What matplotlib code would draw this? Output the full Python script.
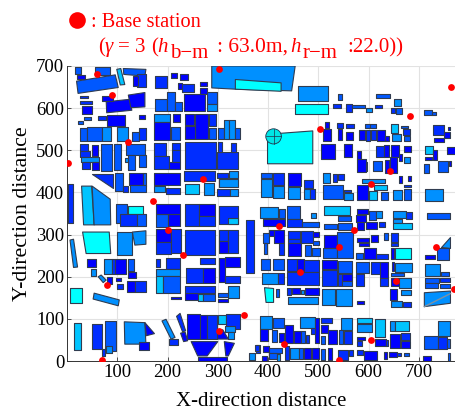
import numpy as np
import matplotlib
matplotlib.use('Agg')
import matplotlib.pyplot as plt
from matplotlib.collections import PolyCollection
from matplotlib.colors import LinearSegmentedColormap
from matplotlib.patches import Ellipse

plt.rcParams['font.family'] = ['Liberation Serif', 'DejaVu Serif']
plt.rcParams['mathtext.fontset'] = 'stix'

# base stations
bs_x = [60, 90, 302, 121, 1, 270, 171, 764, 683, 503, 643, 604, 200, 230, 80, 70, 352, 302,
        422, 572, 542, 463, 654, 734, 771, 432, 604, 542]
bs_y = [680, 630, 692, 520, 471, 431, 380, 651, 581, 551, 451, 421, 311, 252, 181, 2, 110, 71,
        320, 310, 270, 211, 190, 270, 172, 40, 51, 2]

x_ticks = [100, 200, 300, 400, 500, 600, 700]
y_ticks = [0, 100, 200, 300, 400, 500, 600, 700]

# buildings: x0, x1, y0, y1, height class (0 = blue ... 5 = cyan)
rect_nw = [
    (16, 27, 682, 697, 2), (56, 86, 679, 698, 2), (19, 36, 668, 678, 0), (140, 157, 651, 680, 1),
    (132, 142, 652, 676, 0), (175, 198, 648, 676, 1), (207, 218, 672, 684, 0), (225, 240, 666, 682, 0),
    (220, 228, 645, 660, 0), (228, 252, 639, 658, 1), (264, 278, 652, 663, 0), (264, 278, 634, 647, 0),
    (26, 42, 623, 629, 1), (69, 92, 617, 629, 0), (26, 50, 609, 617, 1), (29, 49, 585, 605, 0),
    (175, 198, 593, 622, 2), (198, 215, 593, 639, 2), (215, 228, 593, 615, 2), (233, 275, 593, 633, 0),
    (278, 298, 609, 639, 2), (278, 298, 593, 609, 3), (34, 47, 571, 579, 2), (21, 32, 563, 570, 2),
    (62, 78, 573, 581, 1), (79, 115, 558, 583, 0), (143, 155, 575, 584, 0), (26, 39, 521, 554, 2),
    (40, 69, 521, 555, 2), (69, 88, 521, 555, 3), (100, 121, 522, 555, 3), (129, 143, 522, 544, 2),
    (143, 157, 524, 552, 1), (173, 205, 566, 585, 3), (173, 205, 524, 566, 0), (210, 225, 566, 585, 0),
    (207, 225, 524, 555, 2), (234, 253, 560, 585, 0), (255, 281, 526, 585, 0), (234, 255, 526, 558, 0),
    (283, 296, 558, 585, 1), (283, 296, 526, 554, 2), (301, 313, 526, 552, 2), (313, 323, 526, 571, 3),
    (323, 334, 526, 571, 3), (334, 345, 526, 552, 2), (26, 42, 498, 514, 1), (26, 46, 483, 498, 1),
    (27, 64, 473, 484, 3), (29, 46, 455, 473, 1), (49, 62, 487, 513, 0), (49, 64, 453, 473, 0),
    (67, 90, 451, 514, 2), (94, 107, 453, 514, 2), (117, 155, 489, 516, 2), (122, 135, 453, 489, 2),
    (144, 157, 460, 489, 2), (115, 121, 473, 481, 3), (174, 197, 487, 518, 1), (174, 202, 455, 487, 1),
    (208, 224, 501, 518, 1), (208, 224, 473, 501, 1), (202, 225, 455, 473, 0), (234, 296, 455, 519, 1),
    (299, 341, 455, 495, 1), (301, 309, 495, 520, 1), (326, 337, 495, 518, 1), (96, 112, 404, 445, 2),
    (112, 122, 402, 415, 1), (123, 151, 418, 445, 0), (151, 157, 416, 445, 2), (125, 157, 402, 418, 2),
    (174, 225, 418, 447, 0), (174, 195, 400, 415, 3), (197, 225, 397, 411, 1), (232, 295, 426, 451, 1),
    (234, 262, 396, 421, 4), (272, 293, 394, 422, 3), (299, 321, 435, 447, 1), (323, 341, 434, 450, 3),
    (303, 341, 412, 431, 3), (298, 325, 392, 409, 1), (325, 341, 392, 409, 3), (1, 11, 328, 421, 1),
    (98, 120, 327, 372, 2), (121, 152, 348, 368, 5), (105, 140, 320, 348, 1), (140, 157, 320, 348, 2),
    (177, 200, 317, 348, 2), (200, 225, 320, 348, 0), (177, 225, 348, 372, 0), (235, 262, 320, 372, 1),
    (262, 295, 345, 372, 0), (262, 295, 320, 345, 1), (303, 341, 324, 368, 1), (321, 341, 324, 339, 4),
]
rect_sw = [
    (357, 373, 210, 334, 1), (100, 130, 252, 306, 3), (177, 207, 283, 313, 0), (177, 207, 253, 283, 1),
    (207, 227, 257, 313, 1), (234, 295, 252, 311, 1), (303, 320, 285, 311, 1), (320, 341, 257, 311, 1),
    (303, 320, 257, 285, 0), (40, 58, 222, 241, 0), (47, 57, 202, 219, 3), (79, 89, 182, 200, 0),
    (74, 89, 206, 241, 3), (89, 96, 206, 241, 1), (96, 117, 206, 241, 0), (122, 133, 214, 241, 2),
    (122, 137, 198, 212, 0), (98, 107, 190, 198, 0), (99, 112, 170, 182, 1), (119, 135, 164, 190, 0),
    (135, 157, 164, 190, 1), (177, 185, 224, 241, 1), (196, 225, 218, 244, 1), (177, 225, 202, 218, 3),
    (177, 192, 162, 202, 4), (192, 225, 161, 202, 2), (236, 270, 186, 220, 1), (270, 295, 186, 220, 0),
    (264, 295, 230, 245, 1), (303, 315, 188, 245, 0), (315, 345, 222, 247, 0), (315, 345, 186, 202, 1),
    (235, 260, 145, 162, 0), (235, 295, 162, 178, 1), (261, 271, 143, 160, 4), (271, 295, 143, 160, 2),
    (301, 321, 153, 162, 2), (321, 342, 150, 178, 3), (301, 320, 141, 147, 0), (206, 226, 147, 153, 0),
    (6, 29, 137, 174, 5), (13, 28, 27, 91, 4), (49, 69, 28, 87, 1), (76, 97, 24, 94, 2),
    (69, 76, 12, 28, 1), (77, 89, 18, 36, 3), (144, 164, 26, 44, 0), (203, 220, 38, 52, 1),
    (238, 264, 52, 111, 0), (264, 279, 52, 108, 0), (279, 298, 52, 110, 1), (260, 318, 0, 10, 0),
    (301, 316, 87, 110, 4), (316, 344, 75, 111, 1), (315, 335, 69, 83, 3), (321, 333, 52, 69, 3),
    (363, 374, 3, 20, 3), (376, 384, 20, 38, 1),
]
rect_ne = [
    (459, 519, 617, 652, 3), (454, 519, 587, 609, 5), (540, 548, 619, 634, 2), (615, 642, 623, 634, 2),
    (651, 665, 605, 622, 3), (529, 546, 600, 609, 1), (555, 568, 592, 609, 1), (568, 592, 600, 607, 2),
    (595, 607, 592, 600, 3), (612, 627, 600, 607, 1), (645, 652, 588, 601, 1), (655, 667, 587, 601, 2),
    (711, 726, 583, 596, 2), (726, 734, 584, 592, 2), (514, 522, 552, 566, 0), (509, 526, 522, 550, 0),
    (537, 550, 552, 564, 1), (555, 572, 552, 563, 1), (539, 548, 524, 550, 0), (555, 570, 524, 544, 0),
    (580, 592, 524, 547, 0), (592, 603, 552, 563, 2), (603, 614, 552, 563, 2), (594, 603, 521, 547, 1),
    (605, 615, 524, 547, 1), (617, 633, 522, 547, 0), (632, 640, 521, 534, 0), (645, 659, 542, 562, 4),
    (647, 665, 521, 538, 3), (665, 678, 552, 558, 2), (668, 683, 536, 550, 1), (671, 683, 521, 534, 2),
    (506, 533, 480, 516, 0), (552, 567, 483, 514, 0), (577, 584, 479, 498, 0), (614, 630, 483, 510, 1),
    (630, 640, 483, 512, 0), (645, 660, 483, 512, 0), (670, 685, 495, 510, 0), (671, 683, 471, 484, 3),
    (661, 667, 475, 490, 0), (577, 594, 449, 479, 0), (594, 597, 451, 473, 2), (608, 627, 451, 475, 2),
    (633, 641, 447, 476, 0), (643, 657, 447, 483, 0), (713, 728, 490, 510, 4), (713, 726, 477, 484, 0),
    (728, 736, 477, 500, 0), (756, 773, 492, 508, 0), (711, 721, 445, 467, 2), (738, 758, 449, 475, 2),
    (760, 764, 462, 475, 0), (728, 750, 536, 560, 1), (751, 763, 530, 544, 0), (730, 750, 520, 528, 0),
    (758, 762, 548, 555, 0), (386, 408, 434, 447, 2), (386, 408, 388, 431, 3), (409, 431, 418, 447, 1),
    (409, 431, 386, 415, 3), (439, 465, 416, 445, 0), (439, 464, 385, 412, 3), (471, 489, 410, 429, 1),
    (471, 484, 384, 408, 3), (484, 494, 384, 408, 1), (509, 524, 422, 445, 3), (529, 537, 425, 443, 1),
    (540, 552, 430, 443, 1), (509, 550, 384, 417, 2), (552, 565, 402, 406, 1), (552, 569, 382, 398, 3),
    (577, 598, 382, 418, 0), (586, 632, 422, 431, 3), (611, 637, 405, 417, 4), (600, 617, 382, 404, 4),
    (625, 639, 382, 400, 2), (648, 667, 381, 405, 3), (661, 667, 423, 438, 0), (678, 685, 427, 438, 0),
    (671, 685, 412, 417, 1), (671, 685, 381, 408, 2), (713, 748, 380, 408, 3),
]
rect_se = [
    (385, 420, 340, 365, 3), (389, 433, 320, 338, 0), (421, 433, 340, 360, 2), (438, 464, 338, 368, 2),
    (438, 467, 317, 336, 1), (467, 501, 317, 330, 2), (485, 495, 339, 350, 3), (511, 564, 346, 367, 4),
    (540, 565, 332, 344, 2), (511, 537, 314, 324, 2), (540, 568, 312, 328, 2), (577, 599, 348, 360, 0),
    (576, 594, 330, 346, 0), (577, 590, 311, 330, 0), (594, 617, 313, 330, 0), (600, 614, 335, 356, 2),
    (615, 627, 340, 356, 3), (620, 632, 317, 330, 1), (648, 675, 340, 356, 3), (675, 687, 338, 354, 1),
    (648, 667, 327, 336, 3), (648, 687, 313, 327, 4), (716, 763, 336, 352, 2), (402, 411, 297, 311, 0),
    (389, 402, 281, 303, 2), (411, 431, 279, 311, 0), (391, 398, 253, 281, 2), (422, 431, 251, 281, 1),
    (439, 463, 289, 309, 1), (439, 463, 281, 289, 1), (439, 465, 249, 279, 0), (465, 489, 279, 309, 1),
    (489, 501, 295, 306, 0), (489, 502, 275, 285, 2), (474, 486, 249, 275, 2), (487, 503, 248, 269, 2),
    (511, 538, 268, 298, 0), (509, 537, 245, 268, 2), (538, 570, 245, 306, 2), (576, 588, 243, 257, 2),
    (590, 615, 241, 269, 0), (615, 639, 243, 253, 1), (577, 600, 283, 293, 0), (580, 601, 273, 281, 0),
    (605, 618, 283, 298, 0), (630, 638, 287, 303, 2), (645, 658, 283, 303, 1), (645, 658, 273, 281, 1),
    (645, 651, 243, 267, 0), (653, 685, 241, 268, 5), (713, 733, 241, 252, 0), (736, 760, 239, 267, 2),
    (386, 404, 216, 241, 2), (409, 431, 216, 241, 2), (388, 420, 182, 208, 3), (420, 431, 182, 210, 1),
    (438, 457, 214, 241, 1), (457, 471, 214, 241, 0), (471, 502, 212, 240, 1), (438, 501, 180, 211, 1),
    (507, 537, 177, 216, 1), (507, 537, 218, 240, 0), (539, 568, 210, 238, 2), (548, 568, 190, 206, 0),
    (539, 548, 177, 206, 1), (548, 568, 177, 189, 2), (576, 600, 208, 235, 2), (604, 622, 206, 234, 1),
    (623, 638, 198, 234, 0), (622, 638, 177, 196, 1), (576, 590, 177, 206, 1), (647, 651, 214, 235, 0),
    (653, 687, 212, 232, 3), (645, 670, 202, 210, 2), (645, 660, 177, 198, 0), (660, 685, 174, 196, 3),
    (713, 743, 202, 231, 3), (745, 760, 202, 211, 2), (713, 740, 186, 198, 2), (743, 763, 188, 198, 1),
    (713, 738, 174, 185, 2), (742, 763, 174, 182, 2), (416, 422, 151, 172, 2), (438, 446, 156, 174, 1),
    (447, 464, 158, 174, 0), (465, 472, 158, 168, 3), (474, 501, 157, 173, 0), (439, 499, 135, 153, 3),
    (507, 534, 132, 172, 3), (536, 567, 131, 172, 3), (577, 590, 135, 143, 0), (643, 657, 145, 170, 0),
    (665, 685, 157, 168, 3), (645, 667, 129, 143, 3), (669, 685, 129, 141, 1), (384, 408, 77, 107, 3),
    (409, 431, 78, 101, 2), (384, 400, 48, 76, 0), (408, 418, 46, 74, 2), (422, 431, 44, 66, 0),
    (433, 450, 42, 86, 0), (451, 465, 42, 72, 0), (463, 493, 78, 105, 3), (494, 501, 42, 103, 0),
    (465, 474, 42, 72, 2), (475, 482, 42, 61, 1), (486, 494, 64, 78, 1), (506, 527, 90, 103, 1),
    (506, 519, 66, 85, 0), (505, 514, 40, 60, 2), (519, 537, 40, 74, 0), (545, 568, 74, 103, 3),
    (542, 550, 40, 74, 2), (552, 568, 40, 72, 1), (577, 607, 90, 101, 4), (577, 607, 69, 87, 3),
    (612, 632, 58, 99, 4), (577, 592, 50, 58, 0), (577, 587, 35, 48, 1), (612, 634, 35, 53, 0),
    (634, 639, 35, 50, 1), (642, 653, 72, 95, 3), (653, 681, 72, 95, 4), (642, 663, 32, 64, 0),
    (665, 683, 50, 66, 1), (665, 683, 31, 48, 0), (710, 738, 28, 60, 2), (738, 763, 60, 94, 3),
    (738, 756, 28, 56, 1), (756, 763, 32, 52, 2), (375, 383, 24, 38, 1), (389, 402, 22, 35, 0),
    (402, 428, 19, 32, 2), (388, 398, 0, 12, 0), (402, 418, 4, 19, 2), (418, 424, 0, 16, 3),
    (433, 442, 3, 35, 1), (444, 461, 4, 32, 3), (461, 469, 4, 30, 2), (471, 486, 4, 31, 0),
    (487, 501, 4, 31, 0), (505, 514, 3, 28, 2), (519, 527, 3, 30, 0), (540, 560, 3, 27, 1),
    (562, 570, 12, 27, 1), (577, 588, 15, 27, 1), (590, 617, 3, 24, 0), (630, 637, 4, 22, 0),
    (640, 657, 10, 22, 0), (657, 665, 12, 20, 1), (670, 680, 11, 20, 2), (708, 724, 0, 12, 0),
    (758, 763, 0, 18, 2),
]

# irregular footprints: (corner points, height class)
poly_blocks = [
    ([(288, 700), (454, 700), (447, 641), (335, 645), (288, 648)], 3),
    ([(335, 668), (426, 660), (426, 640), (335, 645)], 5),
    ([(19, 664), (96, 679), (102, 649), (22, 635)], 2),
    ([(99, 692), (107, 694), (115, 656), (106, 655)], 4),
    ([(112, 694), (157, 692), (155, 676), (113, 680)], 2),
    ([(78, 615), (125, 621), (129, 595), (79, 589)], 0),
    ([(122, 631), (155, 637), (155, 603), (127, 601)], 0),
    ([(50, 443), (91, 443), (91, 410)], 1),
    ([(29, 415), (49, 415), (54, 323), (33, 323)], 4),
    ([(50, 415), (86, 384), (87, 323), (54, 323)], 3),
    ([(399, 538), (489, 546), (489, 468), (399, 468)], 5),
    ([(6, 287), (13, 289), (21, 223), (13, 222)], 3),
    ([(31, 306), (84, 306), (87, 255), (38, 255)], 5),
    ([(130, 306), (157, 309), (157, 277), (135, 275)], 3),
    ([(54, 161), (104, 145), (102, 131), (52, 147)], 3),
    ([(114, 93), (155, 91), (157, 40), (115, 40)], 3),
    ([(155, 91), (174, 65), (158, 60)], 0),
    ([(189, 95), (197, 99), (215, 56), (207, 52)], 3),
    ([(218, 106), (225, 113), (236, 72), (230, 69)], 1),
    ([(226, 66), (235, 69), (240, 48), (232, 46)], 0),
    ([(247, 46), (300, 46), (279, 12), (260, 12)], 0),
    ([(298, 74), (310, 74), (321, 52), (298, 52)], 0),
    ([(313, 46), (333, 42), (321, 12), (316, 12)], 0),
    ([(62, 200), (68, 204), (78, 192), (72, 186)], 3),
    ([(393, 174), (411, 172), (411, 139), (396, 139)], 5),
    ([(745, 269), (763, 293), (763, 267), (749, 269)], 3),
    ([(711, 162), (763, 166), (763, 137), (711, 129)], 3),
]

# legend line, piece by piece: text, left pixel, top-down baseline pixel, size, italic
legend_pieces = [
    (': Base station', 91, 27, 14.7, False),
    ('(', 98, 52, 15, False),
    ('\u03b3', 105, 52, 15, True),
    ('= 3', 118, 52, 15, False),
    ('(', 151, 52, 15, False),
    ('h', 157, 52, 15, True),
    ('b\u2212m', 170, 58, 15, False),
    (': 63.0m,', 217, 52, 15.5, False),
    ('h', 290, 52, 15, True),
    ('r\u2212m', 303, 58, 15, False),
    (':22.0))', 347, 52, 15, False),
]


def rect_corners(x0, x1, y0, y1):
    return [(x0, y0), (x1, y0), (x1, y1), (x0, y1)]


def main():
    fig = plt.figure(figsize=(4.55, 4.12), dpi=100)
    ax = fig.add_axes([67 / 455, (412 - 361) / 412, 388 / 455, 295 / 412])

    # green channel climbs slowly at the low end, most footprints read as deep blue
    cmap = LinearSegmentedColormap.from_list(
        'height', [(0, '#0000ff'), (0.2, '#002dff'), (0.4, '#0058ff'),
                   (0.6, '#0090ff'), (0.8, '#00c4ff'), (1, '#00ffff')])
    all_rects = rect_nw + rect_sw + rect_ne + rect_se
    verts = [poly for poly, _ in poly_blocks] + [rect_corners(*r[:4]) for r in all_rects]
    levels = [lv for _, lv in poly_blocks] + [r[4] for r in all_rects]
    blocks = PolyCollection(verts, array=np.array(levels, dtype=float), cmap=cmap, clim=(0, 5),
                            edgecolors='#303c50', linewidths=0.8, zorder=2)
    ax.add_collection(blocks)

    # tank-like round roof on the big cyan block and the split across the corner block
    ax.add_patch(Ellipse((411, 533), 31, 36, fc='#00e6e6', ec='#22304a', lw=0.6, zorder=3))
    ax.plot([396, 426], [533, 533], color='#22304a', lw=0.5, zorder=3)
    ax.plot([411, 411], [515, 551], color='#22304a', lw=0.5, zorder=3)
    ax.plot([711, 763], [129, 160], color='#8090a0', lw=1.0, zorder=3)

    ax.scatter(bs_x, bs_y, s=24, color='#ff0000', linewidths=0, zorder=5, clip_on=True)

    ax.set_xlim(0, 772)
    ax.set_ylim(0, 700)
    ax.set_xticks(x_ticks)
    ax.set_yticks(y_ticks)
    ax.grid(True, color='#e2e2e2', lw=0.8)
    ax.set_axisbelow(True)
    ax.tick_params(direction='in', length=3, width=0.6, labelsize=13.5, pad=2, color='#333333')
    for side in ['top', 'right']:
        ax.spines[side].set_visible(False)
    for side in ['left', 'bottom']:
        ax.spines[side].set_color('#333333')
        ax.spines[side].set_linewidth(0.7)
    ax.set_xlabel('X-direction distance', fontsize=15, labelpad=8)
    ax.set_ylabel('Y-direction distance', fontsize=15.7, labelpad=3)

    for text, px, py, size, italic in legend_pieces:
        fig.text(px / 455, 1 - py / 412, text, color='#ff0000', fontsize=size,
                 style='italic' if italic else 'normal', va='baseline')
    fig.add_artist(plt.Line2D([77 / 455], [1 - 20 / 412], marker='o', ms=12, color='#ff0000',
                              mew=0, transform=fig.transFigure))

    fig.savefig('out.png', dpi=100)


if __name__ == "__main__":
    main()
